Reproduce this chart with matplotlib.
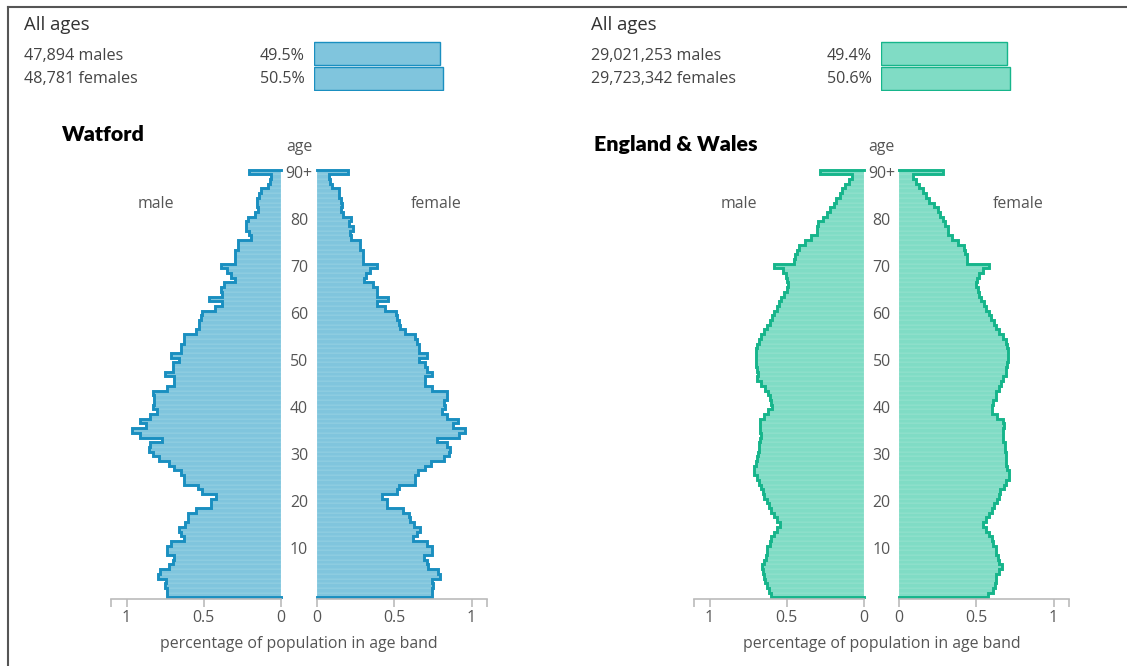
import numpy as np
import matplotlib.pyplot as plt

plt.rcParams['font.family'] = ['Open Sans', 'DejaVu Sans']

W, H = 1127, 666

# single year of age bands, 0 .. 90+
ages = np.arange(91)
age_ticks = [10, 20, 30, 40, 50, 60, 70, 80, 90]
age_tick_labels = ['10', '20', '30', '40', '50', '60', '70', '80', '90+']

# percentage of population in each age band
watford_male = [
    0.735, 0.735, 0.75, 0.745, 0.795, 0.78, 0.725, 0.70, 0.69, 0.74,
    0.74, 0.715, 0.63, 0.65, 0.66, 0.62, 0.605, 0.60, 0.55, 0.455,
    0.455, 0.42, 0.51, 0.535, 0.63, 0.63, 0.65, 0.69, 0.725, 0.79,
    0.83, 0.855, 0.845, 0.77, 0.915, 0.965, 0.875, 0.91, 0.845, 0.80,
    0.83, 0.82, 0.82, 0.83, 0.735, 0.69, 0.69, 0.75, 0.70, 0.70,
    0.66, 0.71, 0.65, 0.65, 0.63, 0.63, 0.55, 0.53, 0.53, 0.52,
    0.51, 0.43, 0.38, 0.465, 0.38, 0.39, 0.37, 0.30, 0.325, 0.35,
    0.39, 0.30, 0.30, 0.295, 0.28, 0.28, 0.195, 0.205, 0.225, 0.225,
    0.215, 0.17, 0.15, 0.155, 0.155, 0.14, 0.13, 0.087, 0.07, 0.065,
    0.205]
watford_female = [
    0.745, 0.745, 0.75, 0.745, 0.795, 0.78, 0.72, 0.71, 0.695, 0.745,
    0.745, 0.71, 0.62, 0.645, 0.665, 0.625, 0.605, 0.595, 0.555, 0.45,
    0.45, 0.42, 0.515, 0.53, 0.635, 0.635, 0.655, 0.70, 0.735, 0.825,
    0.855, 0.86, 0.84, 0.775, 0.92, 0.96, 0.88, 0.915, 0.84, 0.81,
    0.83, 0.825, 0.84, 0.84, 0.745, 0.70, 0.70, 0.745, 0.71, 0.70,
    0.66, 0.71, 0.66, 0.66, 0.645, 0.635, 0.57, 0.54, 0.53, 0.52,
    0.51, 0.44, 0.39, 0.46, 0.39, 0.39, 0.36, 0.305, 0.32, 0.34,
    0.39, 0.30, 0.30, 0.30, 0.28, 0.28, 0.22, 0.215, 0.23, 0.21,
    0.22, 0.17, 0.155, 0.165, 0.155, 0.145, 0.14, 0.10, 0.085, 0.075,
    0.20]
ew_male = [
    0.605, 0.615, 0.625, 0.64, 0.645, 0.655, 0.66, 0.645, 0.635, 0.63,
    0.625, 0.61, 0.60, 0.58, 0.565, 0.545, 0.56, 0.58, 0.60, 0.615,
    0.63, 0.645, 0.655, 0.665, 0.68, 0.695, 0.71, 0.71, 0.70, 0.69,
    0.685, 0.68, 0.68, 0.67, 0.665, 0.67, 0.67, 0.67, 0.65, 0.62,
    0.595, 0.60, 0.61, 0.62, 0.64, 0.665, 0.69, 0.685, 0.69, 0.70,
    0.70, 0.70, 0.70, 0.69, 0.68, 0.665, 0.645, 0.625, 0.61, 0.595,
    0.58, 0.565, 0.55, 0.54, 0.52, 0.50, 0.49, 0.50, 0.505, 0.525,
    0.58, 0.45, 0.445, 0.435, 0.42, 0.385, 0.34, 0.305, 0.305, 0.295,
    0.265, 0.24, 0.22, 0.195, 0.18, 0.155, 0.14, 0.12, 0.10, 0.08,
    0.285]
ew_female = [
    0.575, 0.61, 0.62, 0.625, 0.63, 0.645, 0.665, 0.65, 0.64, 0.63,
    0.625, 0.61, 0.60, 0.58, 0.565, 0.545, 0.56, 0.58, 0.60, 0.615,
    0.635, 0.645, 0.655, 0.68, 0.695, 0.715, 0.71, 0.70, 0.695, 0.69,
    0.69, 0.685, 0.685, 0.675, 0.675, 0.675, 0.68, 0.675, 0.635, 0.60,
    0.60, 0.61, 0.625, 0.63, 0.645, 0.66, 0.675, 0.69, 0.69, 0.70,
    0.705, 0.705, 0.705, 0.70, 0.69, 0.67, 0.65, 0.63, 0.615, 0.595,
    0.58, 0.565, 0.55, 0.53, 0.52, 0.51, 0.50, 0.505, 0.515, 0.545,
    0.585, 0.44, 0.44, 0.43, 0.42, 0.38, 0.34, 0.315, 0.315, 0.30,
    0.285, 0.265, 0.25, 0.225, 0.195, 0.175, 0.155, 0.13, 0.11, 0.09,
    0.285]

# all-ages summary
areas = ['Watford', 'England & Wales']
male_counts = ['47,894', '29,021,253']
female_counts = ['48,781', '29,723,342']
male_pct = [49.5, 49.4]
female_pct = [50.5, 50.6]

fills = ['#80c5dd', '#80dcc5']
stripes = ['#a6d9e8', '#a6e6d6']
edges = ['#1a8fc0', '#16b58b']
text_col = '#555555'
fs = 11.4


def fx(x):
    return x / W


def fy(y):
    return 1 - y / H


fig = plt.figure(figsize=(W / 100, H / 100), dpi=100)

# frame around the panel
fig.add_artist(plt.Line2D([fx(8), 1], [fy(6.5), fy(6.5)], color='#555555', lw=1.5))
fig.add_artist(plt.Line2D([fx(8), fx(8)], [fy(6.5), 0], color='#555555', lw=1.5))

unit = 154.5          # pixels per 1 percent on the pyramid axes
xmax = 1.1
ax_w = unit * xmax
y_top, y_bot = 169.65, 597.35


def half(left, vals, i, is_male):
    ax = fig.add_axes([fx(left), fy(y_bot), ax_w / W, (y_bot - y_top) / H])
    ax.barh(ages, vals, height=1.0, color=fills[i], edgecolor=stripes[i], linewidth=0.3)
    # outer step outline
    xs, ys = [0], [-0.5]
    for a, v in zip(ages, vals):
        xs += [v, v]
        ys += [a - 0.5, a + 0.5]
    xs.append(0)
    ys.append(90.5)
    ax.plot(xs, ys, color=edges[i], lw=2.1, solid_joinstyle='miter', clip_on=False)
    ax.set_ylim(-0.5, 90.5)
    ax.set_xlim((xmax, 0) if is_male else (0, xmax))
    for s in ['top', 'left', 'right']:
        ax.spines[s].set_visible(False)
    ax.spines['bottom'].set_color('#bbbbbb')
    ax.spines['bottom'].set_linewidth(1.2)
    ax.spines['bottom'].set_position(('outward', 1))
    ax.set_yticks([])
    ax.set_xticks([0, 0.5, 1, xmax])
    ax.set_xticklabels(['0', '0.5', '1', ''])
    ax.tick_params(axis='x', length=6, width=1.2, color='#bbbbbb', labelcolor=text_col,
                   labelsize=fs, pad=2)
    return ax


centres = [299, 881.5]
for i, (m, f) in enumerate([(watford_male, watford_female), (ew_male, ew_female)]):
    zero_m = 281 if i == 0 else 864
    zero_f = 317 if i == 0 else 899
    axm = half(zero_m - ax_w, m, i, True)
    axf = half(zero_f, f, i, False)
    c = centres[i]
    tr = axf.get_yaxis_transform()
    for a, lab in zip(age_ticks, age_tick_labels):
        axf.text((c - zero_f) / ax_w, a, lab, transform=tr, ha='center', va='center_baseline',
                 fontsize=fs, color=text_col)
    fig.text(fx(c), fy(145), 'age', ha='center', va='center_baseline', fontsize=fs, color=text_col)
    fig.text(fx(c), fy(642), 'percentage of population in age band', ha='center',
             va='center_baseline', fontsize=fs, color=text_col)
    fig.text(fx(zero_m - 125), fy(202), 'male', ha='center', va='center_baseline',
             fontsize=fs, color=text_col)
    fig.text(fx(zero_f + 119), fy(202), 'female', ha='center', va='center_baseline',
             fontsize=fs, color=text_col)

# headers
hx = [24, 591]
pct_x = [305, 872]
bar_x = [314, 881]
title_pos = [(62, 133), (594, 143)]
for i in range(2):
    fig.text(fx(hx[i]), fy(23), 'All ages', ha='left', va='center_baseline', fontsize=13.3,
             color='#333333')
    fig.text(fx(hx[i]), fy(54), male_counts[i] + ' males', ha='left', va='center_baseline',
             fontsize=11.6, color='#444444')
    fig.text(fx(hx[i]), fy(77), female_counts[i] + ' females', ha='left', va='center_baseline',
             fontsize=11.6, color='#444444')
    fig.text(fx(pct_x[i]), fy(54), f'{male_pct[i]:.1f}%', ha='right', va='center_baseline',
             fontsize=11.6, color='#444444')
    fig.text(fx(pct_x[i]), fy(77), f'{female_pct[i]:.1f}%', ha='right', va='center_baseline',
             fontsize=11.6, color='#444444')
    axs = fig.add_axes([fx(bar_x[i]), fy(91), 255 / W, 50 / H])
    axs.barh([0, 1], [male_pct[i], female_pct[i]], height=0.94, color=fills[i],
             edgecolor=edges[i], linewidth=1.0)
    axs.set_xlim(0, 100)
    axs.set_ylim(1.5, -0.5)
    axs.axis('off')
    tx, ty = title_pos[i]
    fig.text(fx(tx), fy(ty), areas[i], ha='left', va='center_baseline', fontsize=15.4,
             fontweight='heavy', family=['Lato', 'DejaVu Sans'], color='black')

fig.savefig('out.png', dpi=100)
